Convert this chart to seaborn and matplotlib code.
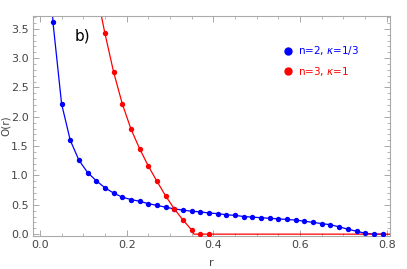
import numpy as np
import pandas as pd
import matplotlib
matplotlib.use("Agg")
import matplotlib.pyplot as plt
from matplotlib.ticker import MultipleLocator
from matplotlib.lines import Line2D
import seaborn as sns

# =============================================
# O(r) profiles for two (n, kappa) cases
# =============================================

blue_r = [0.03, 0.05, 0.07, 0.09, 0.11, 0.13, 0.15, 0.17, 0.19, 0.21,
          0.23, 0.25, 0.27, 0.29, 0.31, 0.33, 0.35, 0.37, 0.39, 0.41,
          0.43, 0.45, 0.47, 0.49, 0.51, 0.53, 0.55, 0.57, 0.59, 0.61,
          0.63, 0.65, 0.67, 0.69, 0.71, 0.73, 0.75, 0.77, 0.79]
blue_O = [3.62, 2.22, 1.60, 1.26, 1.05, 0.91, 0.79, 0.70, 0.63, 0.59,
          0.56, 0.52, 0.49, 0.46, 0.43, 0.41, 0.39, 0.38, 0.36, 0.35,
          0.33, 0.32, 0.30, 0.29, 0.28, 0.27, 0.26, 0.25, 0.24, 0.22,
          0.20, 0.18, 0.16, 0.125, 0.085, 0.05, 0.015, 0.0, 0.0]

red_r = [0.15, 0.17, 0.19, 0.21, 0.23, 0.25, 0.27, 0.29, 0.31, 0.33,
         0.35, 0.37, 0.39]
red_O = [3.42, 2.76, 2.22, 1.79, 1.455, 1.16, 0.90, 0.65, 0.43, 0.24,
         0.07, 0.0, 0.0]

# where the curves leave the top of the frame, and the red tail at zero
blue_start = (0.027, 4.1)
red_start = (0.14, 3.78)
red_knee = (0.355, 0.0)
red_end = (0.81, 0.0)

labels = ["n=2, $\\kappa$=1/3", "n=3, $\\kappa$=1"]
colors = ["#0000ff", "#ff0000"]

blue_line = pd.DataFrame({
    "r": [blue_start[0]] + blue_r,
    "O": [blue_start[1]] + blue_O,
})
red_line = pd.DataFrame({
    "r": [red_start[0]] + red_r[:11] + [red_knee[0]] + red_r[11:] + [red_end[0]],
    "O": [red_start[1]] + red_O[:11] + [red_knee[1]] + red_O[11:] + [red_end[1]],
})

sns.set_style("ticks")
plt.rcParams["font.family"] = ["DejaVu Sans"]

fig = plt.figure(figsize=(4.07, 2.69), dpi=100)
ax = fig.add_axes([0.081, 0.123, 0.877, 0.818])

sns.lineplot(data=blue_line, x="r", y="O", color=colors[0], linewidth=0.9,
             sort=False, estimator=None, ax=ax)
sns.lineplot(data=red_line, x="r", y="O", color=colors[1], linewidth=0.9,
             sort=False, estimator=None, ax=ax)
sns.scatterplot(x=blue_r, y=blue_O, color=colors[0], s=15, linewidth=0, ax=ax, zorder=3)
sns.scatterplot(x=red_r, y=red_O, color=colors[1], s=15, linewidth=0, ax=ax, zorder=3)

ax.set_xlim(-0.016, 0.807)
ax.set_ylim(-0.03, 3.72)
ax.xaxis.set_major_locator(MultipleLocator(0.2))
ax.xaxis.set_minor_locator(MultipleLocator(0.05))
ax.yaxis.set_major_locator(MultipleLocator(0.5))
ax.yaxis.set_minor_locator(MultipleLocator(0.1))
ax.xaxis.set_major_formatter(matplotlib.ticker.FormatStrFormatter("%.1f"))
ax.yaxis.set_major_formatter(matplotlib.ticker.FormatStrFormatter("%.1f"))

ax.tick_params(which="both", direction="in", top=True, right=True,
               color="#999999", labelsize=8, labelcolor="#444444", pad=3)
ax.tick_params(which="major", length=4, width=0.6)
ax.tick_params(which="minor", length=2, width=0.5)
for sp in ax.spines.values():
    sp.set_color("#aaaaaa")
    sp.set_linewidth(0.8)

ax.set_xlabel("r", fontsize=8, color="#444444", labelpad=6)
ax.set_ylabel("O(r)", fontsize=7.5, color="#444444")
ax.yaxis.set_label_coords(-0.062, 0.5)

ax.text(0.118, 0.91, "b)", transform=ax.transAxes, fontsize=11,
        va="center", ha="left", color="black")

handles = [Line2D([], [], marker="o", linestyle="none", markersize=5,
                  markerfacecolor=c, markeredgecolor=c) for c in colors]
ax.legend(handles, labels, loc="upper left", bbox_to_anchor=(0.685, 0.89),
          frameon=False, fontsize=7.5, labelcolor=colors, handletextpad=0.4,
          labelspacing=0.75, borderaxespad=0, handlelength=1.2)

fig.savefig("out.png", dpi=100)
